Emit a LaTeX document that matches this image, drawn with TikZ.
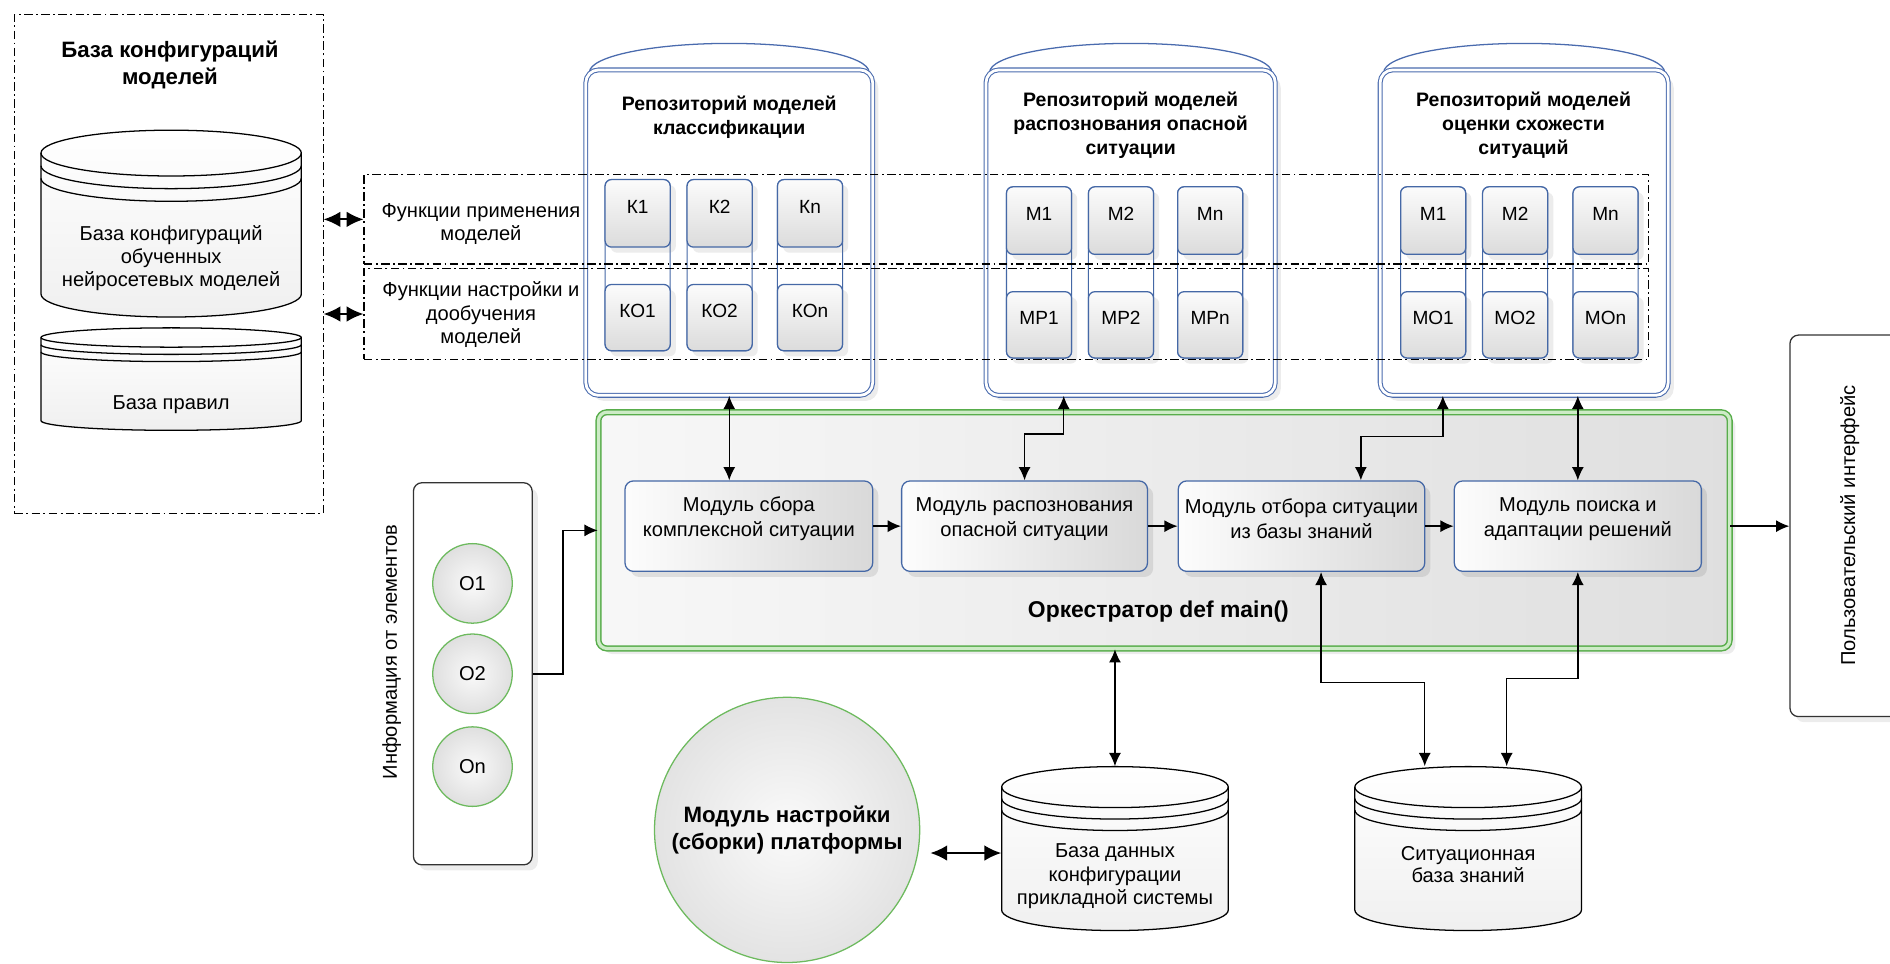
\documentclass[tikz,border=0pt]{standalone}
\usepackage{fontspec}
\setmainfont{Liberation Sans}
\usepackage{tikz}
\usetikzlibrary{positioning,arrows.meta,fit,shadows}

\definecolor{modblue}{HTML}{4568A6}
\definecolor{repblue}{HTML}{4A6BAE}
\definecolor{orchgreen}{HTML}{58AD4B}
\definecolor{palegreen}{HTML}{CDEBC6}
\definecolor{circgreen}{HTML}{6DBA5E}

% name, cx, top, rx, bottom, ry, gap
\newcommand{\dbcyl}[7]{%
  \path[cylbody] ({#2-#4},{-(#3+#6)}) -- ({#2-#4},{-(#5-#6)})
    arc[start angle=180, end angle=360, x radius=#4, y radius=#6]
    -- ({#2+#4},{-(#3+#6)})
    arc[start angle=0, end angle=180, x radius=#4, y radius=#6] -- cycle;
  \foreach \k in {0,1,2}
    \draw[cylline] ({#2-#4},{-(#3+#6+\k*#7)}) arc[start angle=180, end angle=360, x radius=#4, y radius=#6];
  \node[inner sep=0, fit={({#2-#4},{-#3}) ({#2+#4},{-#5})}] (#1) {};
}

\begin{document}
\begin{tikzpicture}[
    x=0.2mm, y=0.2mm,
    font=\fontsize{9.5}{11}\selectfont,
    frame/.style={draw, line width=0.5pt, dash pattern=on 4pt off 1.6pt on 0.9pt off 1.6pt, inner sep=0},
    cylbody/.style={draw, line width=0.6pt, top color=white, bottom color=gray!12},
    cylline/.style={line width=0.6pt},
    repo/.style={draw=repblue, double=white, double distance=1.3pt, line width=0.5pt, rounded corners=6pt, fill=white, inner sep=0, drop shadow={opacity=0.15}},
    colbox/.style={draw=modblue, line width=0.5pt, rounded corners=3pt, fill=white, inner sep=0},
    mbox/.style={draw=modblue, line width=0.6pt, rounded corners=3pt, top color=gray!3, bottom color=gray!28, inner sep=0, font=\fontsize{9}{11}\selectfont, drop shadow={opacity=0.15}},
    module/.style={draw=modblue, line width=0.6pt, rounded corners=4pt, left color=gray!2, right color=gray!30, inner sep=0, align=center, font=\fontsize{9.5}{11.8}\selectfont, drop shadow={opacity=0.2}},
    orch/.style={draw=orchgreen, double=palegreen, double distance=1.5pt, line width=0.7pt, rounded corners=4pt, left color=gray!6, right color=gray!25, inner sep=0, drop shadow={opacity=0.15}},
    plainbox/.style={draw=black!80, line width=0.6pt, rounded corners=4pt, fill=white, inner sep=0, drop shadow={opacity=0.15}},
    elem/.style={circle, draw=circgreen, line width=0.6pt, inner color=gray!4, outer color=gray!25, minimum size=13.2mm, inner sep=0},
    reptitle/.style={align=center, font=\bfseries\fontsize{9.2}{11.4}\selectfont},
    arr/.style={-{Latex[length=2.2mm,width=2mm]}, line width=0.7pt},
    dblarr/.style={{Latex[length=2.2mm,width=2mm]}-{Latex[length=2.2mm,width=2mm]}, line width=0.7pt},
    fatdbl/.style={{Latex[length=2.8mm,width=2.6mm]}-{Latex[length=2.8mm,width=2.6mm]}, line width=0.9pt}
  ]
    \useasboundingbox (0,0) rectangle (1568,-799);

    \node[frame, fit={(12,-12) (268,-426)}] (cfgbase) {};
    \node[align=center, font=\bfseries\fontsize{10.5}{12.5}\selectfont] (cfgtitle) at (141,-54) {База конфигураций\\моделей};
    \dbcyl{nnbase}{142}{108}{108}{263}{19}{10.5}
    \node[align=center, font=\fontsize{9.5}{11}\selectfont] (nntxt) at (142,-214) {База конфигураций\\обученных\\нейросетевых моделей};
    \dbcyl{rules}{142}{272}{108}{357}{8}{6}
    \node (rulestxt) at (142,-336) {База правил};

    \foreach \n/\xa/\xb in {rep1/486/724, rep2/818/1058, rep3/1145/1384} {
      \draw[repblue, line width=0.6pt, fill=white] (\xa+3,-60) arc[start angle=180, end angle=0, x radius={(\xb-\xa)/2-3}, y radius=24];
      \node[repo, fit={(\xa,-58) (\xb,-328)}] (\n) {};
    }
    \node[reptitle] (rep1txt) at (605,-97) {Репозиторий моделей\\классификации};
    \node[reptitle] (rep2txt) at (938,-104) {Репозиторий моделей\\распознования опасной\\ситуации};
    \node[reptitle] (rep3txt) at (1264,-104) {Репозиторий моделей\\оценки схожести\\ситуаций};

    \foreach \x/\n/\t/\b/\y in {529/k1/К1/КО1/0, 597/k2/К2/КО2/0, 672/kn/Кn/КОn/0,
                                862/p1/М1/МР1/6, 930/p2/М2/МР2/6, 1004/pn/Мn/МРn/6,
                                1189/s1/М1/МО1/6, 1257/s2/М2/МО2/6, 1332/sn/Мn/МОn/6} {
      \node[colbox, fit={(\x-27,-149-\y) (\x+27,-291-\y)}] (col-\n) {};
      \node[mbox, fit={(\x-27,-149-\y) (\x+27,-205-\y)}] (\n-up) {\t};
      \node[mbox, fit={(\x-27,-236-\y) (\x+27,-291-\y)}] (\n-lo) {\b};
    }

    \node[frame, fit={(302,-145) (1368,-219)}] (apply) {};
    \node[frame, fit={(302,-223) (1368,-298)}] (tune) {};
    \node[align=center] (applytxt) at (399,-186) {Функции применения\\моделей};
    \node[align=center] (tunetxt) at (399,-261) {Функции настройки и\\дообучения\\моделей};
    \draw[fatdbl] (cfgbase.east |- apply) -- (apply.west);
    \draw[fatdbl] (cfgbase.east |- tune) -- (tune.west);

    \node[orch, fit={(496.5,-342) (1435,-538)}] (orch) {};
    \node[module, fit={(518.5,-399) (724,-474)}] (msbor) {Модуль сбора\\комплексной ситуации};
    \node[module, fit={(748,-399) (952,-474)}] (mrasp) {Модуль распознования\\опасной ситуации};
    \node[module, fit={(977.5,-399) (1182,-474)}] (motb) {Модуль отбора ситуации\\из базы знаний};
    \node[module, fit={(1206.5,-399) (1411.5,-474)}] (mpoisk) {Модуль поиска и\\адаптации решений};
    \node[font=\bfseries\fontsize{10.8}{13}\selectfont] (orchtxt) at (961,-507) {Оркестратор def main()};

    \node[plainbox, fit={(343,-400.5) (441.5,-717.5)}] (info) {};
    \node[rotate=90] (infotxt) at (325,-541) {Информация от элементов};
    \node[elem] (o1) at (392,-484) {О1};
    \node[elem] (o2) at (392,-559) {О2};
    \node[elem] (on) at (392,-636) {Оn};

    \begin{scope}
      \clip (0,0) rectangle (1568,-799);
      \node[plainbox, fit={(1485,-278) (1610,-594.5)}] (ui) {};
    \end{scope}
    \node[rotate=90] (uitxt) at (1534.5,-436) {Пользовательский интерфейс};

    \node[circle, draw=circgreen, line width=0.6pt, inner color=gray!4, outer color=gray!22, minimum size=44mm, inner sep=0, align=center, font=\bfseries\fontsize{10.5}{13}\selectfont] (setup) at (653,-688.5) {Модуль настройки\\(сборки) платформы};
    \dbcyl{db}{925}{636}{94}{772}{17}{9.5}
    \node[align=center] (dbtxt) at (925,-727) {База данных\\конфигурации\\прикладной системы};
    \dbcyl{kb}{1218}{636}{94}{772}{17}{9.5}
    \node[align=center, font=\fontsize{9.5}{10.5}\selectfont] (kbtxt) at (1218,-717) {Ситуационная\\база знаний};

    \coordinate (b2) at (882.5,-360);
    \coordinate (b3) at (1197,-362);
    \coordinate (b4) at (1129,-362);
    \coordinate (ib) at (467,-440);
    \coordinate (c1) at (1096,-566);
    \coordinate (c2) at (1182,-566);
    \coordinate (c3) at (1250,-563);

    \draw[dblarr] (rep1.south) -- (rep1.south |- msbor.north);
    \draw[dblarr] (b2 |- rep2.south) -- (b2) -| (mrasp.north);
    \draw[dblarr] (b3 |- rep3.south) -- (b3) -- (b4) -- (b4 |- motb.north);
    \draw[dblarr] (mpoisk.north |- rep3.south) -- (mpoisk.north);
    \draw[arr] (msbor) -- (mrasp);
    \draw[arr] (mrasp) -- (motb);
    \draw[arr] (motb) -- (mpoisk);
    \draw[arr] (orch.east |- mpoisk.east) -- (ui.west |- mpoisk.east);
    \draw[arr] (info.east |- o2) -| (ib) -- (ib -| orch.west);
    \draw[dblarr] (orch.south -| db.north) -- (db.north);
    \draw[dblarr] (c1 |- motb.south) -- (c1) -- (c2) -- (c2 |- kb.north);
    \draw[dblarr] (mpoisk.south) |- (c3) -- (c3 |- kb.north);
    \draw[fatdbl] ([xshift=2mm]setup.-10) -- (db.west |- setup.-10);
  \end{tikzpicture}
\end{document}
